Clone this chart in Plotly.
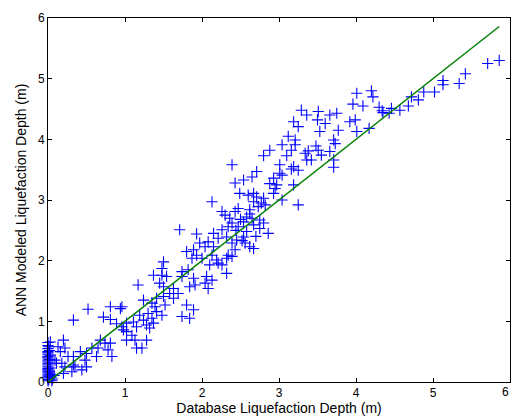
import plotly.graph_objects as go

# Database (measured) liquefaction depth, m
database_depth = [
    5.02, 5.13, 5.13, 5.34, 5.42, 5.71, 5.86,
    4.01, 4.20, 4.22, 3.96, 4.09, 4.30, 4.34, 4.35, 4.43, 4.46, 4.57, 4.68, 4.72, 4.81, 4.88,
    3.99, 4.01, 4.17,
    3.29, 3.36, 3.51, 3.50, 3.60, 3.66, 3.75, 3.19, 3.25, 3.92, 3.77, 3.53, 3.12, 3.21, 3.71,
    3.73, 3.04, 2.88, 2.80, 3.16, 3.21, 3.38, 3.48, 3.51, 3.55, 3.66, 3.10, 3.42, 3.71, 3.71,
    3.19, 3.16, 3.25, 3.01, 3.01, 2.93, 2.88, 2.97, 3.19,
    3.34, 3.36, 2.39, 2.71, 2.65, 2.54, 2.43, 3.04, 2.95, 2.93, 3.04, 3.25, 2.67, 2.49, 2.60,
    2.71, 2.80, 2.67, 2.82, 2.73, 2.62, 2.47, 2.43, 2.26, 2.13, 2.30, 2.58, 2.65, 2.75, 2.54,
    2.39, 2.34, 2.47, 2.67, 2.75, 2.86, 2.80, 2.26, 2.15, 2.21, 2.32, 2.39, 2.45, 2.54, 2.56,
    2.62, 2.67, 2.15, 2.43, 2.34, 2.39, 2.21, 2.26, 2.32, 2.13,
    2.58, 2.62, 2.50, 2.70, 2.36, 2.44, 2.77, 2.52,
    1.71, 1.93, 1.97, 2.08, 2.04, 1.80, 1.89, 1.93, 1.87, 2.00, 2.13, 2.19, 2.10, 2.32, 1.50,
    1.48, 1.74, 1.82, 1.37, 1.48, 1.54, 1.74, 1.89, 1.91, 2.06, 2.04, 1.84, 1.17, 1.45, 1.50,
    1.63, 1.58, 1.69, 1.50, 1.41, 1.63, 2.08, 1.24, 1.35, 1.52, 1.39, 1.41, 1.48, 1.80, 1.89,
    1.30, 0.96, 1.19, 1.74, 1.84, 1.35, 1.24, 1.11, 1.02, 1.28, 1.37, 1.32, 1.15, 1.02, 1.09,
    0.96,
    0.52, 0.33, 0.81, 0.94, 0.72, 0.81, 0.89, 0.98, 1.13, 1.02, 1.15, 0.68, 0.74, 0.81, 0.65,
    0.78, 0.57, 0.63, 0.50, 0.83, 0.33, 0.42, 0.48, 0.50, 0.35, 0.26, 0.20, 0.13, 0.16, 0.03,
    0.22, 0.09, 0.11, 0.18, 0.20, 0.22, 0.33, 0.44, 0.31, 1.28, 1.22,
    0.00, 0.00, 0.00, 0.00, 0.00, 0.00, 0.00, 0.00, 0.00, 0.00, 0.00, 0.00, 0.00, 0.00,
    0.00, 0.00, 0.00, 0.00, 0.00, 0.00, 0.00, 0.00, 0.00,
    0.01, 0.02, 0.02, 0.03, 0.01, 0.02, 0.03, 0.02, 0.01, 0.04, 0.05, 0.03, 0.06, 0.08,
]

# ANN modelled liquefaction depth, m
ann_depth = [
    4.78, 4.97, 4.90, 4.92, 5.08, 5.25, 5.30,
    4.76, 4.80, 4.70, 4.58, 4.55, 4.53, 4.47, 4.44, 4.43, 4.51, 4.48, 4.55, 4.70, 4.65, 4.78,
    4.32, 4.13, 4.18,
    4.48, 4.40, 4.46, 4.32, 4.26, 4.40, 4.43, 4.29, 4.21, 4.29, 4.15, 4.13, 4.05, 3.99, 3.99,
    3.93, 3.91, 3.82, 3.73, 3.82, 3.91, 3.81, 3.89, 3.82, 3.74, 3.80, 3.73, 3.66, 3.66, 3.54,
    3.55, 3.51, 3.49, 3.58, 3.44, 3.36, 3.27, 3.25, 3.25,
    3.77, 3.66, 3.58, 3.47, 3.38, 3.33, 3.28, 3.41, 3.19, 3.11, 3.00, 2.92, 3.11, 3.11, 3.08,
    3.05, 3.03, 2.97, 2.92, 2.89, 2.84, 2.86, 2.81, 2.81, 2.97, 2.75, 2.72, 2.70, 2.67, 2.64,
    2.62, 2.56, 2.56, 2.59, 2.53, 2.45, 2.62, 2.51, 2.45, 2.37, 2.39, 2.29, 2.34, 2.39, 2.29,
    2.23, 2.20, 2.23, 2.18, 2.09, 2.07, 1.96, 1.93, 1.79, 1.68,
    2.48, 2.77, 2.68, 2.40, 2.70, 2.50, 2.95, 2.33,
    2.51, 2.44, 2.29, 2.31, 2.23, 2.15, 2.18, 2.09, 2.04, 2.04, 2.09, 2.01, 1.93, 2.04, 1.98,
    1.87, 1.82, 1.85, 1.76, 1.76, 1.74, 1.74, 1.71, 1.60, 1.74, 1.63, 1.57, 1.60, 1.63, 1.57,
    1.54, 1.46, 1.46, 1.41, 1.38, 1.38, 1.54, 1.35, 1.30, 1.27, 1.24, 1.16, 1.10, 1.27, 1.19,
    1.13, 1.24, 1.10, 1.08, 1.05, 1.05, 1.02, 0.99, 0.97, 0.94, 0.97, 0.89, 0.91, 0.83, 0.77,
    0.91,
    1.20, 1.02, 1.24, 1.21, 1.07, 1.03, 0.96, 0.86, 0.69, 0.69, 0.56, 0.69, 0.64, 0.64, 0.56,
    0.53, 0.56, 0.42, 0.47, 0.42, 0.42, 0.50, 0.36, 0.25, 0.25, 0.42, 0.69, 0.58, 0.50, 0.66,
    0.56, 0.36, 0.31, 0.31, 0.14, 0.25, 0.28, 0.20, 0.17, 0.69, 0.56,
    0.02, 0.05, 0.08, 0.10, 0.12, 0.15, 0.18, 0.20, 0.22, 0.25, 0.28, 0.30, 0.33, 0.35,
    0.38, 0.40, 0.42, 0.45, 0.48, 0.50, 0.55, 0.60, 0.65,
    0.04, 0.10, 0.17, 0.23, 0.31, 0.37, 0.44, 0.52, 0.58, 0.08, 0.02, 0.13, 0.05, 0.11,
]

line_x = [0.0, 5.86]
line_y = [0.0, 5.86]

x_tick_vals = [0, 1, 2, 3, 4, 5, 6]

FONT = "Liberation Sans, Arial"

fig = go.Figure()
fig.add_trace(go.Scatter(
    x=database_depth, y=ann_depth, mode="markers",
    marker=dict(symbol="cross-thin", size=8, line=dict(color="#0000ff", width=1.1), color="#0000ff"),
    showlegend=False, cliponaxis=False,
))
fig.add_trace(go.Scatter(
    x=line_x, y=line_y, mode="lines",
    line=dict(color="#008000", width=1.5), showlegend=False,
))

axis_common = dict(
    showline=True, linecolor="black", linewidth=1, mirror="ticks",
    ticks="inside", ticklen=4, tickcolor="black", tickwidth=1,
    showgrid=False, zeroline=False,
    tickfont=dict(family=FONT, size=12, color="black"),
    tick0=0, dtick=1, automargin=False,
)

fig.update_layout(
    width=511, height=420,
    margin=dict(l=48, r=1, t=18, b=38),
    paper_bgcolor="white", plot_bgcolor="white",
    xaxis=dict(range=[0, 6], title=dict(text="Database Liquefaction Depth (m)", standoff=2,
               font=dict(family=FONT, size=14, color="black")), **axis_common),
    yaxis=dict(range=[0, 6], title=dict(text="ANN Modeled Liquefaction Depth (m)", standoff=8,
               font=dict(family=FONT, size=14, color="black")), **axis_common),
)

# last x tick label sits at the right edge; keep it fully inside the canvas
fig.add_annotation(
    x=x_tick_vals[-1], xref="x", y=0, yref="paper", xanchor="right", yanchor="top",
    yshift=-1, xshift=1,
    text=str(x_tick_vals[-1]), showarrow=False,
    font=dict(family=FONT, size=12, color="black"),
)

fig.write_html(
    "out.html",
    config={"displayModeBar": False},
    post_script="document.body.style.margin='0';document.body.style.overflow='hidden';",
)
